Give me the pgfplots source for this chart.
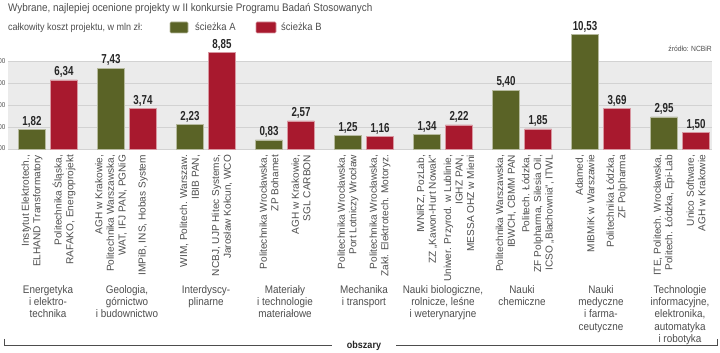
\documentclass[border=0pt]{standalone}
\usepackage{pgfplots}
\pgfplotsset{compat=1.18}
\usepackage{fontspec}
\setmainfont{Liberation Sans}[FakeStretch=0.9]
\newfontfamily\lblfont{Liberation Sans}
\newfontfamily\valfont{Liberation Sans}[FakeStretch=0.75]
\definecolor{olv}{HTML}{5A6326}
\definecolor{crim}{HTML}{A8192E}
\definecolor{txt}{HTML}{4D4D4D}
\definecolor{band}{HTML}{EBEBEB}
\definecolor{gridc}{HTML}{D2D2D2}
\begin{document}
\begin{tikzpicture}[x=1pt,y=1pt]
\path[use as bounding box] (0,0) rectangle (720,353);
\begin{axis}[
  at={(8pt,204pt)}, anchor=south west,
  scale only axis, width=704pt, height=87.2pt,
  xmin=-0.506, xmax=8.405, ymin=0, ymax=8,
  clip=false,
  axis background/.style={fill=band},
  axis line style={draw=none},
  major tick style={draw=none},
  ymajorgrids, grid style={gridc, line width=0.6pt},
  ytick={0,2,4,6,8},
  yticklabel style={font=\fontsize{7}{8}\selectfont, text=txt, anchor=east, inner sep=0pt, xshift=-2.5pt},
  xtick={-0.2025,0.2025,0.7975,1.2025,1.7975,2.2025,2.7975,3.2025,3.7975,4.2025,4.7975,5.2025,5.7975,6.2025,6.7975,7.2025,7.7975,8.2025},
  xticklabels={
    {Instytut Elektrotech.,\\ELHAND Transformatory},
    {Politechnika Śląska,\\RAFAKO, Energoprojekt},
    {AGH w Krakowie,\\Politechnika Warszawska,\\WAT, IFJ PAN, PGNiG},
    {IMPiB, INS, Hobas System},
    {WIM, Politech. Warszaw.\\IBIB PAN,},
    {NCBJ, UJP Hitec Systems,\\Jarosław Kołcun, WCO},
    {Politechnika Wrocławska,\\ZP Bohamet},
    {AGH w Krakowie,\\SGL CARBON},
    {Politechnika Wrocławska,\\Port Lotniczy Wrocław},
    {Politechnika Wrocławska,\\Zakł. Elektrotech. Motoryz.},
    {IWNiRZ, PozLab,\\ZZ „Kawon-Hurt Nowak”},
    {Uniwer. Przyrod. w Lublinie,\\IGHZ PAN,\\MESSA OHZ w Mieni},
    {Politechnika Warszawska,\\IBWCH, CBMM PAN},
    {Politech. Łódzka,\\ZF Polpharma, Silesia Oil,\\ICSO „Blachownia”, ITWL},
    {Adamed,\\MIBMiK w Warszawie},
    {Politechnika Łódzka,\\ZF Polpharma},
    {ITE, Politech. Wrocławska,\\Politech. Łódzka, Epi-Lab},
    {Unico Software,\\AGH w Krakowie}
  },
  xticklabel style={rotate=90, anchor=east, align=right, font=\lblfont\fontsize{10.1}{11.6}\selectfont, text=txt, inner sep=1.5pt},
  ybar, bar width=27pt, bar shift=0pt,
  nodes near coords,
  every node near coord/.append style={font=\valfont\bfseries\fontsize{13}{14}\selectfont, text=black!85, yshift=-1.5pt},
  /pgf/number format/.cd, assume math mode=true, use comma, fixed, fixed zerofill, precision=2,
]
\addplot[fill=olv, draw=olv!45!white, line width=0.6pt] coordinates {
  (-0.2025,1.82) (0.7975,7.43) (1.7975,2.23) (2.7975,0.83) (3.7975,1.25)
  (4.7975,1.34) (5.7975,5.40) (6.7975,10.53) (7.7975,2.95)};
\addplot[fill=crim, draw=crim!45!white, line width=0.6pt] coordinates {
  (0.2025,6.34) (1.2025,3.74) (2.2025,8.85) (3.2025,2.57) (4.2025,1.16)
  (5.2025,2.22) (6.2025,1.85) (7.2025,3.69) (8.2025,1.50)};
\end{axis}
% title and legend
\node[anchor=base west, text=txt, font=\fontsize{11}{12}\selectfont, inner sep=0pt] at (8,353-12) {Wybrane, najlepiej ocenione projekty w II konkursie Programu Badań Stosowanych};
\node[anchor=base west, text=txt, font=\fontsize{10}{12}\selectfont, inner sep=0pt] at (8,353-31) {całkowity koszt projektu, w mln zł:};
\fill[olv, draw=olv!45!white, line width=0.6pt, rounded corners=1pt] (170,353-33) rectangle (188,353-22);
\node[anchor=base west, text=txt, font=\fontsize{10.5}{12}\selectfont, inner sep=0pt] at (195,353-31) {ścieżka A};
\fill[crim, draw=crim!45!white, line width=0.6pt, rounded corners=1pt] (256,353-33) rectangle (276,353-22);
\node[anchor=base west, text=txt, font=\fontsize{10.5}{12}\selectfont, inner sep=0pt] at (281,353-31) {ścieżka B};
\node[anchor=base east, text=txt, font=\fontsize{7.5}{8}\selectfont, inner sep=0pt] at (712,353-52) {źródło: NCBiR};
% group labels
\foreach \gx/\lab in {48/{Energetyka\\i elektro-\\technika},
  127/{Geologia,\\górnictwo\\i budownictwo},
  206/{Interdyscy-\\plinarne},
  285/{Materiały\\i technologie\\materiałowe},
  364/{Mechanika\\i transport},
  443/{Nauki biologiczne,\\rolnicze, leśne\\i weterynaryjne},
  522/{Nauki\\chemiczne},
  601/{Nauki\\medyczne\\i farma-\\ceutyczne},
  680/{Technologie\\informacyjne,\\elektronika,\\automatyka\\i robotyka}}{
  \node[anchor=north, align=center, text=txt, font=\fontsize{11}{12.3}\selectfont, inner sep=0pt] at (\gx,353-285) {\lab};
}
% bottom axis
\draw[txt, line width=0.6pt] (4,353-339) -- (4,353-345) -- (332,353-345);
\draw[txt, line width=0.6pt] (396,353-345) -- (717,353-345) -- (717,353-339);
\node[anchor=base, font=\bfseries\fontsize{10}{12}\selectfont, text=black!85, inner sep=0pt] at (364,353-349) {obszary};
\end{tikzpicture}
\end{document}
